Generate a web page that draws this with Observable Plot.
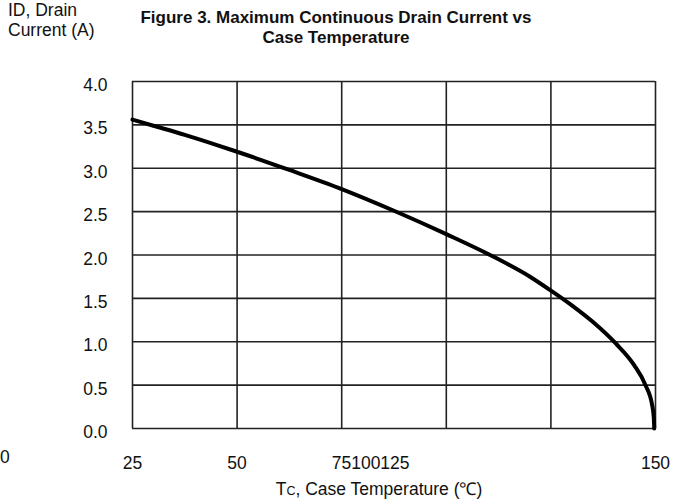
<!DOCTYPE html>
<html>
<head>
<meta charset="utf-8">
<script src="https://cdn.jsdelivr.net/npm/d3@7"></script>
<script src="https://cdn.jsdelivr.net/npm/@observablehq/plot@0.6"></script>
<style>
  html, body { margin: 0; padding: 0; background: #fff; }
  #wrap { position: relative; width: 678px; height: 500px; font-family: "Liberation Sans", Arial, sans-serif; color: #111; }
  #wrap svg { position: absolute; left: 0; top: 0; }
  .t { position: absolute; white-space: nowrap; }
  #title { left: 0; width: 672px; top: 8px; text-align: center; font-weight: bold; font-size: 17px; line-height: 20px; }
  #ylab { left: 8px; top: 0px; font-size: 17.5px; line-height: 20px; }
  #xlab { left: 0; width: 758px; top: 476px; text-align: center; font-size: 17.5px; }
  #zero { left: 0px; top: 447px; font-size: 17.5px; }
</style>
</head>
<body>
<div id="wrap">
  <div class="t" id="title">Figure 3. Maximum Continuous Drain Current vs<br>Case Temperature</div>
  <div class="t" id="ylab">ID, Drain<br>Current (A)</div>
  <div class="t" id="xlab">T<span style="font-size:12.5px">C</span>, Case Temperature (℃)</div>
  <div class="t" id="zero">0</div>
</div>
<script>
// Series: case temperature (°C) vs max continuous drain current (A)
const tempC  = [25, 30, 37.5, 45, 50, 62.5, 75, 87.5, 100, 112.5, 120, 125, 130, 135, 140.5, 144.9, 147.6, 149.2, 149.6, 149.7];
const drainA = [3.56, 3.49, 3.385, 3.27, 3.19, 2.98, 2.76, 2.51, 2.24, 1.95, 1.75, 1.59, 1.42, 1.23, 0.98, 0.73, 0.50, 0.27, 0.12, 0.0];

// Axis ticks and labels
const xGrid = [25, 50, 75, 100, 125, 150];
const xTicksCentered = [25, 50, 150];
const xTickMerged = [75];
const xMergedLabel = "75100125";
const yTicks = [0, 0.5, 1, 1.5, 2, 2.5, 3, 3.5, 4];

const data = tempC.map((t, i) => ({t, a: drainA[i]}));

const chart = Plot.plot({
  width: 678,
  height: 500,
  marginLeft: 132,
  marginRight: 23,
  marginTop: 81,
  marginBottom: 72,
  style: {fontFamily: "'Liberation Sans', Arial, sans-serif", fontSize: "17.5px", color: "#111", background: "transparent"},
  x: {domain: [25, 150]},
  y: {domain: [0, 4]},
  marks: [
    Plot.gridX(xGrid, {stroke: "#222", strokeOpacity: 1, strokeWidth: 1.6}),
    Plot.gridY(yTicks, {stroke: "#222", strokeOpacity: 1, strokeWidth: 1.6}),
    Plot.line(data, {x: "t", y: "a", stroke: "#000", strokeWidth: 4, curve: "monotone-x"}),
    Plot.axisY(yTicks, {tickSize: 0, tickPadding: 25, dy: 4, tickFormat: d => d.toFixed(1), label: null, fontSize: 17.5}),
    Plot.axisX(xTicksCentered, {tickSize: 0, tickPadding: 28, tickFormat: d => String(d), label: null, fontSize: 17.5}),
    Plot.axisX(xTickMerged, {tickSize: 0, tickPadding: 28, tickFormat: () => xMergedLabel, textAnchor: "start", dx: -10, label: null, fontSize: 17.5})
  ]
});
document.getElementById("wrap").appendChild(chart);
</script>
</body>
</html>
